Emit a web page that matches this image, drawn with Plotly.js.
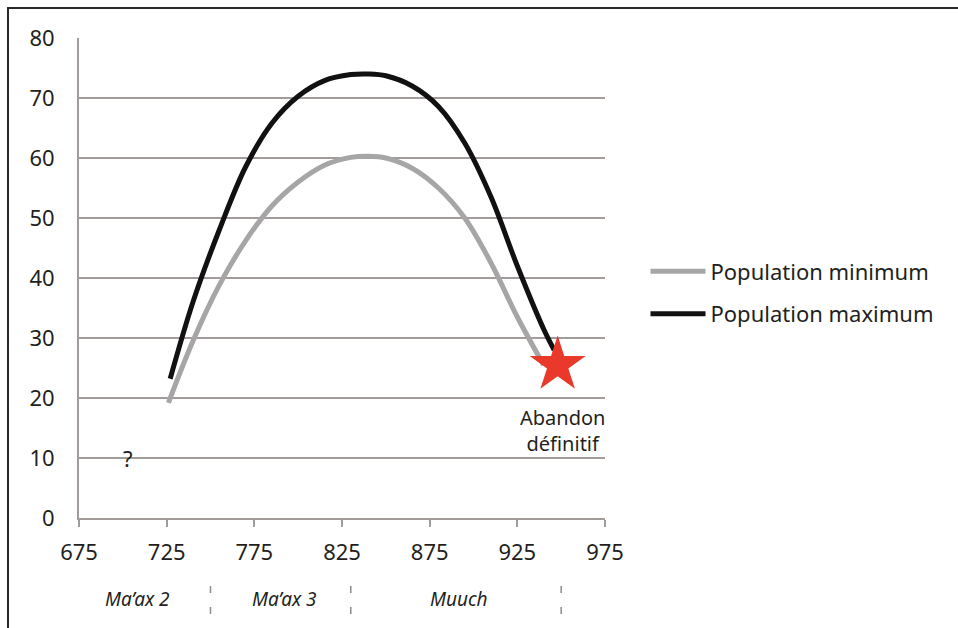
<!DOCTYPE html>
<html>
<head>
<meta charset="utf-8">
<script src="https://cdn.plot.ly/plotly-3.0.1.min.js"></script>
<style>
  html, body { margin: 0; padding: 0; background: #ffffff; }
  #chart { width: 958px; height: 628px; }
  #frame { position: absolute; left: 7px; top: 7px; width: 951px; height: 621px;
           border-left: 2px solid #2a2a2a; border-top: 2px solid #2a2a2a; pointer-events: none; }
</style>
</head>
<body>
<div id="chart"></div>
<div id="frame"></div>
<script>
// Population curves (years AD vs population)
const minYears = [726, 740, 755, 770, 785, 800, 815, 830, 840, 850, 865, 880, 895, 910, 925, 940];
const minPop   = [19.2, 29.5, 38.8, 46.2, 52, 56, 58.8, 60.1, 60.3, 60, 58.3, 55, 50, 42.5, 33.5, 25.5];
const maxYears = [727, 740, 755, 770, 785, 800, 815, 830, 840, 850, 865, 880, 895, 910, 925, 940, 946];
const maxPop   = [23.2, 36, 48, 58.5, 65.8, 70.3, 72.9, 73.9, 74, 73.7, 72, 68.6, 62.5, 53.5, 42, 31.5, 28];
const seriesNames = ['Population minimum', 'Population maximum'];

// Abandonment marker
const abandonYear = [948];
const abandonPop = [25.5];
const abandonLabel = 'Abandon<br>définitif';

// Unknown earlier phase
const unknownYear = 703;
const unknownPop = 10;

// Phases along the time axis
const phaseNames = ['Ma’ax 2', 'Ma’ax 3', 'Muuch'];
const phaseCenters = [708.6, 792.4, 891.5];
const phaseBounds = [750, 830, 950];

const xTicks = [675, 725, 775, 825, 875, 925, 975];
const yTicks = [0, 10, 20, 30, 40, 50, 60, 70, 80];

const FONT = 'Noto Sans, Open Sans, sans-serif';
const GRID = '#a19c99';

const traces = [
  {
    x: minYears, y: minPop, name: seriesNames[0], type: 'scatter', mode: 'lines',
    line: { color: '#a6a6a6', width: 5, shape: 'spline', smoothing: 1 },
    legendgroup: 'a'
  },
  {
    x: maxYears, y: maxPop, name: seriesNames[1], type: 'scatter', mode: 'lines',
    line: { color: '#111111', width: 5, shape: 'spline', smoothing: 1 },
    legendgroup: 'b'
  },
  {
    x: abandonYear, y: abandonPop, type: 'scatter', mode: 'markers', showlegend: false,
    marker: { symbol: 'star', size: 42, color: '#e8392b', line: { width: 0 } }
  }
];

const shapes = phaseBounds.map(b => ({
  type: 'line', xref: 'x', yref: 'paper', x0: b, x1: b, y0: -0.1417, y1: -0.202,
  line: { color: '#8c8c8c', width: 1.5, dash: '7px,14px' }
}));

const annotations = phaseNames.map((n, i) => ({
  x: phaseCenters[i], y: -0.169, xref: 'x', yref: 'paper', text: n, showarrow: false,
  font: { family: FONT, size: 19, color: '#231f20', style: 'italic' }, xanchor: 'center', yanchor: 'middle'
}));
annotations.push({
  x: abandonYear[0] + 2.8, y: abandonPop[0] - 6.2, xref: 'x', yref: 'y', text: abandonLabel, showarrow: false,
  font: { family: FONT, size: 20, color: '#231f20' }, xanchor: 'center', yanchor: 'top'
});
annotations.push({
  x: unknownYear, y: unknownPop, xref: 'x', yref: 'y', text: '?', showarrow: false,
  font: { family: FONT, size: 22, color: '#231f20' }, xanchor: 'center', yanchor: 'middle'
});

const layout = {
  width: 958, height: 628,
  margin: { l: 79, r: 353, t: 38, b: 110 },
  paper_bgcolor: '#ffffff', plot_bgcolor: '#ffffff',
  font: { family: FONT, size: 21, color: '#231f20' },
  xaxis: {
    range: [675, 975], tickvals: xTicks, ticktext: xTicks.map(String),
    showgrid: false, zeroline: false, showline: true, linecolor: GRID, linewidth: 2,
    ticks: 'outside', ticklen: 7, tickwidth: 2, tickcolor: GRID, ticklabelstandoff: 7,
    tickfont: { family: FONT, size: 22, color: '#231f20' }, fixedrange: true
  },
  yaxis: {
    range: [0, 80], tickvals: yTicks, ticktext: yTicks.map(String),
    showgrid: true, gridcolor: GRID, gridwidth: 2, zeroline: false,
    showline: true, linecolor: GRID, linewidth: 2, ticks: '',
    ticklabelstandoff: 18,
    tickfont: { family: FONT, size: 22, color: '#231f20' }, fixedrange: true
  },
  showlegend: true,
  legend: {
    x: 1.077, y: 0.469, xanchor: 'left', yanchor: 'middle',
    font: { family: FONT, size: 22, color: '#231f20' },
    bgcolor: 'rgba(0,0,0,0)', borderwidth: 0, tracegroupgap: 11, itemwidth: 55
  },
  shapes: shapes,
  annotations: annotations
};

Plotly.newPlot('chart', traces, layout, { staticPlot: true, displayModeBar: false });
</script>
</body>
</html>
